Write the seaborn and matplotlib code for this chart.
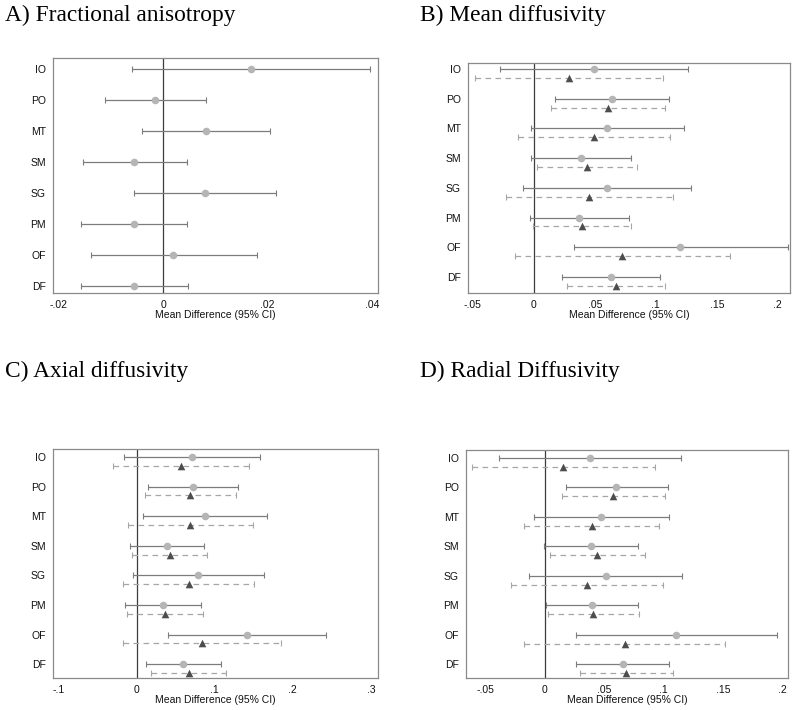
import numpy as np
import pandas as pd
import seaborn as sns
import matplotlib
matplotlib.use("Agg")
from matplotlib import pyplot as plt

regions = ["IO", "PO", "MT", "SM", "SG", "PM", "OF", "DF"]

## A) fractional anisotropy (single model)
fa_est = [0.0168, -0.0015, 0.0082, -0.0055, 0.0080, -0.0056, 0.0019, -0.0056]
fa_lo = [-0.0060, -0.0112, -0.0041, -0.0154, -0.0055, -0.0157, -0.0138, -0.0157]
fa_hi = [0.0397, 0.0082, 0.0205, 0.0045, 0.0217, 0.0045, 0.0181, 0.0047]

## B) mean diffusivity, model 1 (circles) and model 2 (triangles)
md1_est = [0.0489, 0.0637, 0.0601, 0.0388, 0.0598, 0.0369, 0.1200, 0.0631]
md1_lo = [-0.0279, 0.0172, -0.0022, -0.0027, -0.0085, -0.0033, 0.0331, 0.0230]
md1_hi = [0.1262, 0.1107, 0.1232, 0.0795, 0.1290, 0.0779, 0.2085, 0.1036]
md2_est = [0.0287, 0.0609, 0.0492, 0.0432, 0.0456, 0.0391, 0.0724, 0.0675]
md2_lo = [-0.0486, 0.0142, -0.0134, 0.0022, -0.0232, -0.0011, -0.0153, 0.0273]
md2_hi = [0.1060, 0.1079, 0.1117, 0.0844, 0.1137, 0.0798, 0.1604, 0.1079]

## C) axial diffusivity
ad1_est = [0.0706, 0.0723, 0.0877, 0.0385, 0.0791, 0.0334, 0.1407, 0.0599]
ad1_lo = [-0.0167, 0.0150, 0.0077, -0.0086, -0.0043, -0.0154, 0.0406, 0.0120]
ad1_hi = [0.1579, 0.1292, 0.1668, 0.0864, 0.1634, 0.0826, 0.2426, 0.1074]
ad2_est = [0.0565, 0.0689, 0.0684, 0.0424, 0.0667, 0.0368, 0.0843, 0.0667]
ad2_lo = [-0.0308, 0.0111, -0.0111, -0.0056, -0.0180, -0.0124, -0.0180, 0.0188]
ad2_hi = [0.1437, 0.1266, 0.1493, 0.0903, 0.1506, 0.0856, 0.1852, 0.1142]

## D) radial diffusivity
rd1_est = [0.0382, 0.0603, 0.0471, 0.0387, 0.0511, 0.0396, 0.1105, 0.0659]
rd1_lo = [-0.0384, 0.0174, -0.0095, -0.0008, -0.0132, 0.0006, 0.0264, 0.0264]
rd1_hi = [0.1150, 0.1038, 0.1047, 0.0788, 0.1156, 0.0783, 0.1953, 0.1049]
rd2_est = [0.0154, 0.0575, 0.0393, 0.0441, 0.0356, 0.0407, 0.0673, 0.0685]
rd2_lo = [-0.0614, 0.0143, -0.0174, 0.0042, -0.0289, 0.0022, -0.0174, 0.0295]
rd2_hi = [0.0926, 0.1013, 0.0965, 0.0842, 0.0999, 0.0794, 0.1521, 0.1080]

sns.set_theme(style="white")
plt.rcParams['font.family'] = ['Liberation Sans', 'DejaVu Sans']

FRAME = "#8a8a8a"


def add_series(ax, est, lo, hi, offset, marker, mcolor, lcolor, dashed):
    df = pd.DataFrame({"region": regions, "est": est, "lo": lo, "hi": hi})
    df["pos"] = np.arange(len(regions)) + offset
    err = [df["est"] - df["lo"], df["hi"] - df["est"]]
    eb = ax.errorbar(df["est"], df["pos"], xerr=err, fmt="none", ecolor=lcolor,
                     elinewidth=0.9, capsize=2.2, capthick=0.8, zorder=2)
    if dashed:
        eb[2][0].set_linestyle((0, (4.5, 3.5)))
    sns.scatterplot(data=df, x="est", y="pos", marker=marker, s=30, color=mcolor,
                    edgecolor=mcolor, linewidth=0, ax=ax, zorder=3, legend=False)


def style_axes(ax, xlim, ylim, ticks, ticklabels):
    ax.axvline(0, color="#3c3c3c", lw=0.9, zorder=1)
    ax.set_xlim(*xlim)
    ax.set_ylim(*ylim)
    ax.set_xticks(ticks)
    ax.set_xticklabels(ticklabels)
    ax.set_yticks(range(len(regions)))
    ax.set_yticklabels(regions)
    ax.tick_params(direction="out", length=3, width=0.6, color=FRAME,
                   labelsize=7.5, pad=2, labelcolor="#111111")
    for sp in ax.spines.values():
        sp.set_color(FRAME)
        sp.set_linewidth(0.9)
    ax.set_xlabel("Mean Difference (95% CI)", fontsize=7.5, labelpad=0, color="#111111")
    ax.set_ylabel("")


fig = plt.figure(figsize=(8, 7.1), dpi=100)
W, H = 800, 710


def box(left, top, right, bottom):
    return fig.add_axes([left / W, 1 - bottom / H, (right - left) / W, (bottom - top) / H])


axA = box(53, 58, 378, 293)
add_series(axA, fa_est, fa_lo, fa_hi, 0, "o", "#b5b5b5", "#7c7c7c", False)
style_axes(axA, (-0.0211, 0.0412), (7.235, -0.355),
           [-0.02, 0, 0.02, 0.04], ["-.02", "0", ".02", ".04"])

axB = box(468, 63, 790, 293)
add_series(axB, md1_est, md1_lo, md1_hi, 0, "o", "#b5b5b5", "#7c7c7c", False)
add_series(axB, md2_est, md2_lo, md2_hi, 0.3, "^", "#4d4d4d", "#a6a6a6", True)
style_axes(axB, (-0.054, 0.21), (7.54, -0.2),
           [-0.05, 0, 0.05, 0.1, 0.15, 0.2], ["-.05", "0", ".05", ".1", ".15", ".2"])

axC = box(53, 449, 378, 678)
add_series(axC, ad1_est, ad1_lo, ad1_hi, 0, "o", "#b5b5b5", "#7c7c7c", False)
add_series(axC, ad2_est, ad2_lo, ad2_hi, 0.3, "^", "#4d4d4d", "#a6a6a6", True)
style_axes(axC, (-0.107, 0.309), (7.47, -0.27),
           [-0.1, 0, 0.1, 0.2, 0.3], ["-.1", "0", ".1", ".2", ".3"])

axD = box(466, 450, 788, 678)
add_series(axD, rd1_est, rd1_lo, rd1_hi, 0, "o", "#b5b5b5", "#7c7c7c", False)
add_series(axD, rd2_est, rd2_lo, rd2_hi, 0.3, "^", "#4d4d4d", "#a6a6a6", True)
style_axes(axD, (-0.0665, 0.2048), (7.47, -0.27),
           [-0.05, 0, 0.05, 0.1, 0.15, 0.2], ["-.05", "0", ".05", ".1", ".15", ".2"])

title_font = dict(family=["Liberation Serif", "DejaVu Serif"], fontsize=16.8,
                  va="top", ha="left", color="black")
fig.text(5 / W, 1 - 5 / H, "A) Fractional anisotropy", **title_font)
fig.text(420 / W, 1 - 5 / H, "B) Mean diffusivity", **title_font)
fig.text(5 / W, 1 - 361 / H, "C) Axial diffusivity", **title_font)
fig.text(420 / W, 1 - 361 / H, "D) Radial Diffusivity", **title_font)

fig.savefig("out.png", dpi=100)
